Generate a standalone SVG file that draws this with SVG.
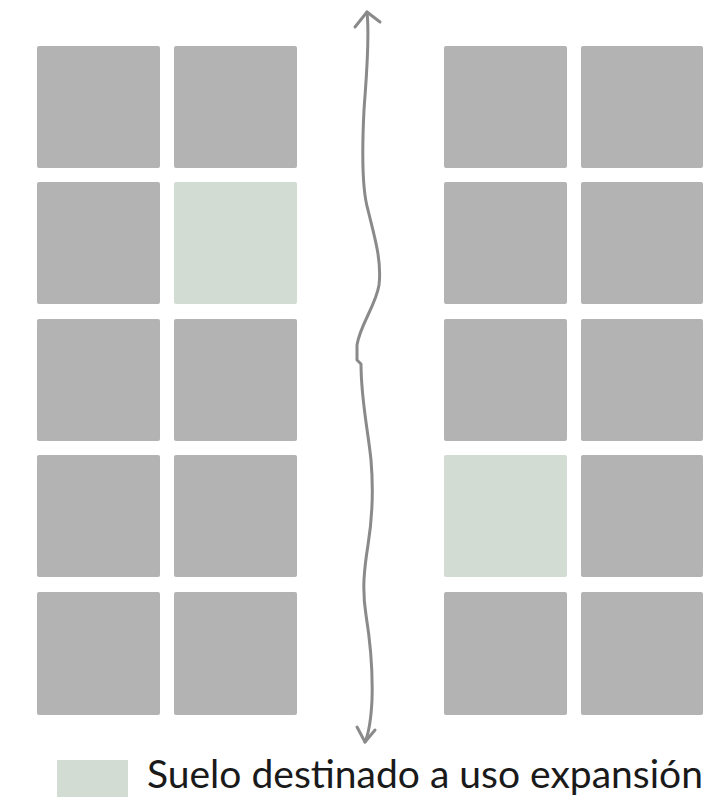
<svg xmlns="http://www.w3.org/2000/svg" width="722" height="799" viewBox="0 0 722 799">
<style>
.b{fill:#b3b3b3}
.g{fill:#d3dcd2}
.c{fill:none;stroke:#8a8a8a;stroke-width:3;stroke-linecap:round;stroke-linejoin:round}
.t{font-family:Lato,"Open Sans",sans-serif;font-size:39px;fill:#1a1a1a}
</style>
<rect width="722" height="799" fill="#ffffff"/>
<g id="left-blocks">
<rect id="L11" class="b" x="37" y="46" width="123" height="122" rx="2"/>
<rect id="L12" class="b" x="174" y="46" width="123" height="122" rx="2"/>
<rect id="L21" class="b" x="37" y="182" width="123" height="122" rx="2"/>
<rect id="L22" class="g" x="174" y="182" width="123" height="122" rx="2"/>
<rect id="L31" class="b" x="37" y="319" width="123" height="122" rx="2"/>
<rect id="L32" class="b" x="174" y="319" width="123" height="122" rx="2"/>
<rect id="L41" class="b" x="37" y="455" width="123" height="122" rx="2"/>
<rect id="L42" class="b" x="174" y="455" width="123" height="122" rx="2"/>
<rect id="L51" class="b" x="37" y="592" width="123" height="123" rx="2"/>
<rect id="L52" class="b" x="174" y="592" width="123" height="123" rx="2"/>
</g>
<g id="right-blocks">
<rect id="R11" class="b" x="444" y="46" width="123" height="122" rx="2"/>
<rect id="R12" class="b" x="581" y="46" width="122" height="122" rx="2"/>
<rect id="R21" class="b" x="444" y="182" width="123" height="122" rx="2"/>
<rect id="R22" class="b" x="581" y="182" width="122" height="122" rx="2"/>
<rect id="R31" class="b" x="444" y="319" width="123" height="122" rx="2"/>
<rect id="R32" class="b" x="581" y="319" width="122" height="122" rx="2"/>
<rect id="R41" class="g" x="444" y="455" width="123" height="122" rx="2"/>
<rect id="R42" class="b" x="581" y="455" width="122" height="122" rx="2"/>
<rect id="R51" class="b" x="444" y="592" width="123" height="123" rx="2"/>
<rect id="R52" class="b" x="581" y="592" width="122" height="123" rx="2"/>
</g>
<g id="connectors">
<path class="c" d="M367,12 C370,40 366,80 364,110 C362,150 362,190 368,210 C374,235 382,260 379,285 C376,305 360,325 357,345 L357,360 L361,364 C361,400 368,430 371,460 C374,495 372,520 368,545 C364,570 362,590 366,615 C370,640 373,670 372,700 C371,720 368,735 365,742"/>
<path class="c" d="M355,27 L367,12 L380,22"/>
<path class="c" d="M357,727 L365,742 L375,730"/>
</g>
<g id="legend">
<rect class="g" x="57" y="760" width="71" height="37"/>
<text class="t" x="147" y="788" textLength="556" lengthAdjust="spacingAndGlyphs">Suelo destinado a uso expansión</text>
</g>
</svg>
